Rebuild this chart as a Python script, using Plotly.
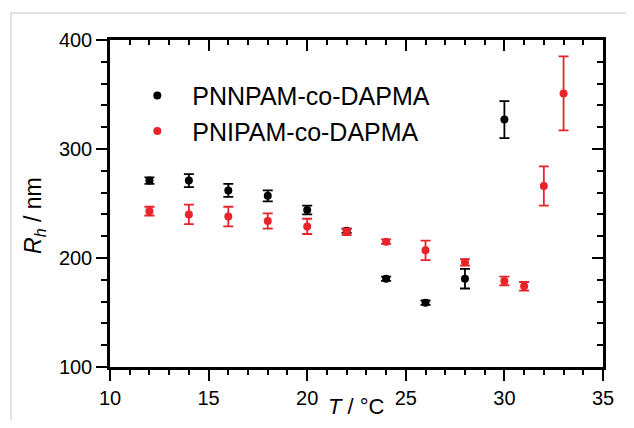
import plotly.graph_objects as go

# Data
T_pnnpam = [12, 14, 16, 18, 20, 22, 24, 26, 28, 30]
R_pnnpam = [271, 271, 262, 257, 244, 225, 181, 159, 181, 327]
E_pnnpam = [3, 6, 6, 5, 4, 2, 2, 2, 9, 17]

T_pnipam = [12, 14, 16, 18, 20, 22, 24, 26, 28, 30, 31, 32, 33]
R_pnipam = [243, 240, 238, 234, 229, 224, 215, 207, 196, 179, 174, 266, 351]
E_pnipam = [4, 9, 9, 7, 7, 3, 2, 9, 3, 4, 4, 18, 34]

x_ticks = [10, 15, 20, 25, 30, 35]
y_ticks = [100, 200, 300, 400]

RED = "#e8232a"
FONT = "Liberation Sans, Arial, sans-serif"

fig = go.Figure()
fig.add_trace(go.Scatter(
    x=T_pnnpam, y=R_pnnpam, mode="markers", name="PNNPAM-co-DAPMA",
    marker=dict(color="black", size=8),
    error_y=dict(type="data", array=E_pnnpam, color="black", thickness=1.8, width=5),
))
fig.add_trace(go.Scatter(
    x=T_pnipam, y=R_pnipam, mode="markers", name="PNIPAM-co-DAPMA",
    marker=dict(color=RED, size=8),
    error_y=dict(type="data", array=E_pnipam, color=RED, thickness=1.8, width=5),
))
# empty trace to show the mirrored top/right axes
fig.add_trace(go.Scatter(x=[], y=[], xaxis="x2", yaxis="y2", showlegend=False, hoverinfo="skip"))

common = dict(showline=True, linecolor="black", linewidth=2.5, showgrid=False, zeroline=False,
              tickcolor="black", tickwidth=2, ticklen=11, automargin=False)

fig.update_layout(
    width=626, height=412,
    margin=dict(l=102, r=31, t=32, b=53, autoexpand=False),
    paper_bgcolor="white", plot_bgcolor="white",
    font=dict(family=FONT, color="black", size=20),
    showlegend=True,
    legend=dict(x=0.025, y=0.9, xanchor="left", yanchor="top",
                font=dict(size=25, family=FONT), bgcolor="rgba(0,0,0,0)",
                itemwidth=60, tracegroupgap=0),
    xaxis=dict(range=[10, 35], tickvals=x_ticks, ticks="outside",
               minor=dict(dtick=1, ticks="outside", ticklen=5, tickwidth=2, tickcolor="black"),
               tickfont=dict(size=20), **common),
    yaxis=dict(range=[100, 400], tickvals=y_ticks, ticks="outside",
               minor=dict(dtick=20, ticks="outside", ticklen=6, tickwidth=2, tickcolor="black"),
               tickfont=dict(size=20), **common),
    xaxis2=dict(range=[10, 35], overlaying="x", side="top", anchor="y", tickvals=x_ticks,
                ticks="inside", showticklabels=False,
                minor=dict(dtick=1, ticks="inside", ticklen=5, tickwidth=2, tickcolor="black"),
                **common),
    yaxis2=dict(range=[100, 400], overlaying="y", side="right", anchor="x", tickvals=y_ticks,
                ticks="inside", showticklabels=False,
                minor=dict(dtick=20, ticks="inside", ticklen=6, tickwidth=2, tickcolor="black"),
                **common),
    annotations=[
        dict(text="<i>R</i><sub><i>h</i></sub> / nm", textangle=-90,
             xref="paper", yref="paper", x=-0.152, y=0.462,
             xanchor="center", yanchor="middle", showarrow=False,
             font=dict(size=23, family=FONT, color="black")),
        dict(text="<i>T</i> / °C",
             xref="paper", yref="paper", x=0.5, y=-0.121,
             xanchor="center", yanchor="middle", showarrow=False,
             font=dict(size=22, family=FONT, color="black")),
    ],
    shapes=[dict(type="rect", xref="paper", yref="paper",
                 x0=-0.2008, x1=1.2, y0=-0.5, y1=1.0826,
                 line=dict(color="#e3e3e3", width=2), fillcolor="rgba(0,0,0,0)", layer="below")],
)

fig.write_html("out.html")
